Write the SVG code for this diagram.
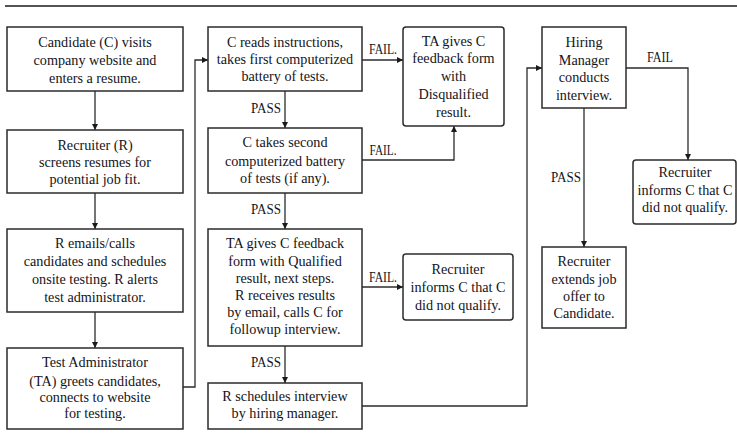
<svg xmlns="http://www.w3.org/2000/svg" width="737" height="446" viewBox="0 0 737 446">
  <style>
    .box { fill: #ffffff; stroke: #2b2b2b; stroke-width: 1.5; }
    .t { font-family: "Liberation Serif", "DejaVu Serif", "Times New Roman", serif; font-size: 14.2px; fill: #141420; text-anchor: middle; }
    .lbl { font-family: "Liberation Serif", "DejaVu Serif", "Times New Roman", serif; font-size: 14px; fill: #141420; text-anchor: middle; }
    .wire { fill: none; stroke: #2b2b2b; stroke-width: 1.3; }
  </style>
  <defs>
    <marker id="arrow" viewBox="0 0 6 6" refX="6" refY="3" markerWidth="6" markerHeight="6" orient="auto" markerUnits="userSpaceOnUse">
      <path d="M0,0 L6,3 L0,6 z" fill="#1a1a1a"/>
    </marker>
  </defs>

  <!-- top rule -->
  <line x1="5" y1="6" x2="737" y2="6" stroke="#1a1a1a" stroke-width="1.5"/>

  <!-- connectors -->
  <g id="connectors">
    <path class="wire" d="M95,91 V130" marker-end="url(#arrow)"/>
    <path class="wire" d="M95,193 V229" marker-end="url(#arrow)"/>
    <path class="wire" d="M95,312 V348" marker-end="url(#arrow)"/>
    <path class="wire" d="M183,387 H195 V60 H208" marker-end="url(#arrow)"/>
    <path class="wire" d="M285,91 V128" marker-end="url(#arrow)"/>
    <path class="wire" d="M285,193 V229" marker-end="url(#arrow)"/>
    <path class="wire" d="M285,346 V383" marker-end="url(#arrow)"/>
    <path class="wire" d="M362,60 H403" marker-end="url(#arrow)"/>
    <path class="wire" d="M362,160 H454 V126" marker-end="url(#arrow)"/>
    <path class="wire" d="M362,287 H403" marker-end="url(#arrow)"/>
    <path class="wire" d="M362,406 H527 V68 H542" marker-end="url(#arrow)"/>
    <path class="wire" d="M626,68 H688 V160" marker-end="url(#arrow)"/>
    <path class="wire" d="M584,108 V247" marker-end="url(#arrow)"/>
    <text class="lbl" x="383" y="54" textLength="28" lengthAdjust="spacingAndGlyphs">FAIL.</text>
    <text class="lbl" x="383" y="155" textLength="27" lengthAdjust="spacingAndGlyphs">FAIL.</text>
    <text class="lbl" x="383" y="282" textLength="28" lengthAdjust="spacingAndGlyphs">FAIL.</text>
    <text class="lbl" x="266" y="113" textLength="30" lengthAdjust="spacingAndGlyphs">PASS</text>
    <text class="lbl" x="266" y="214" textLength="30" lengthAdjust="spacingAndGlyphs">PASS</text>
    <text class="lbl" x="266" y="367" textLength="30" lengthAdjust="spacingAndGlyphs">PASS</text>
    <text class="lbl" x="660" y="62" textLength="26" lengthAdjust="spacingAndGlyphs">FAIL</text>
    <text class="lbl" x="566" y="182" textLength="30" lengthAdjust="spacingAndGlyphs">PASS</text>
  </g>

  <g id="visit">
    <rect class="box" x="7" y="27" width="176" height="64"/>
    <text class="t" x="95" y="47">Candidate (C) visits</text>
    <text class="t" x="95" y="65">company website and</text>
    <text class="t" x="95" y="83">enters a resume.</text>
  </g>
  <g id="screen">
    <rect class="box" x="7" y="130" width="176" height="63"/>
    <text class="t" x="95" y="150">Recruiter (R)</text>
    <text class="t" x="95" y="167">screens resumes for</text>
    <text class="t" x="95" y="184">potential job fit.</text>
  </g>
  <g id="schedule">
    <rect class="box" x="7" y="229" width="176" height="83"/>
    <text class="t" x="95" y="248">R emails/calls</text>
    <text class="t" x="95" y="266">candidates and schedules</text>
    <text class="t" x="95" y="284">onsite testing. R alerts</text>
    <text class="t" x="95" y="302">test administrator.</text>
  </g>
  <g id="greet">
    <rect class="box" x="7" y="348" width="176" height="81"/>
    <text class="t" x="95" y="367">Test Administrator</text>
    <text class="t" x="95" y="386">(TA) greets candidates,</text>
    <text class="t" x="95" y="402">connects to website</text>
    <text class="t" x="95" y="418">for testing.</text>
  </g>

  <g id="test1">
    <rect class="box" x="208" y="27" width="154" height="64"/>
    <text class="t" x="285" y="47">C reads instructions,</text>
    <text class="t" x="285" y="64">takes first computerized</text>
    <text class="t" x="285" y="81">battery of tests.</text>
  </g>
  <g id="test2">
    <rect class="box" x="208" y="128" width="154" height="65"/>
    <text class="t" x="285" y="147">C takes second</text>
    <text class="t" x="285" y="166">computerized battery</text>
    <text class="t" x="285" y="183">of tests (if any).</text>
  </g>
  <g id="qualified">
    <rect class="box" x="208" y="229" width="154" height="117"/>
    <text class="t" x="285" y="248">TA gives C feedback</text>
    <text class="t" x="285" y="266">form with Qualified</text>
    <text class="t" x="285" y="283">result, next steps.</text>
    <text class="t" x="285" y="300">R receives results</text>
    <text class="t" x="285" y="317">by email, calls C for</text>
    <text class="t" x="285" y="334">followup interview.</text>
  </g>
  <g id="book">
    <rect class="box" x="208" y="383" width="154" height="46"/>
    <text class="t" x="285" y="401">R schedules interview</text>
    <text class="t" x="285" y="418">by hiring manager.</text>
  </g>

  <g id="disqualified">
    <rect class="box" x="403" y="27" width="101" height="99" rx="3"/>
    <text class="t" x="453.5" y="46">TA gives C</text>
    <text class="t" x="453.5" y="63">feedback form</text>
    <text class="t" x="453.5" y="81">with</text>
    <text class="t" x="453.5" y="99">Disqualified</text>
    <text class="t" x="453.5" y="117">result.</text>
  </g>
  <g id="notify1">
    <rect class="box" x="403" y="254" width="110" height="66" rx="3"/>
    <text class="t" x="458" y="274">Recruiter</text>
    <text class="t" x="458" y="292">informs C that C</text>
    <text class="t" x="458" y="310">did not qualify.</text>
  </g>

  <g id="interview">
    <rect class="box" x="542" y="27" width="84" height="81"/>
    <text class="t" x="584" y="47">Hiring</text>
    <text class="t" x="584" y="65">Manager</text>
    <text class="t" x="584" y="82">conducts</text>
    <text class="t" x="584" y="100">interview.</text>
  </g>
  <g id="notify2">
    <rect class="box" x="633" y="160" width="103" height="64" rx="3"/>
    <text class="t" x="685" y="177">Recruiter</text>
    <text class="t" x="685" y="195">informs C that C</text>
    <text class="t" x="685" y="212">did not qualify.</text>
  </g>
  <g id="offer">
    <rect class="box" x="542" y="247" width="84" height="81"/>
    <text class="t" x="584" y="266">Recruiter</text>
    <text class="t" x="584" y="284">extends job</text>
    <text class="t" x="584" y="301">offer to</text>
    <text class="t" x="584" y="318">Candidate.</text>
  </g>
</svg>
